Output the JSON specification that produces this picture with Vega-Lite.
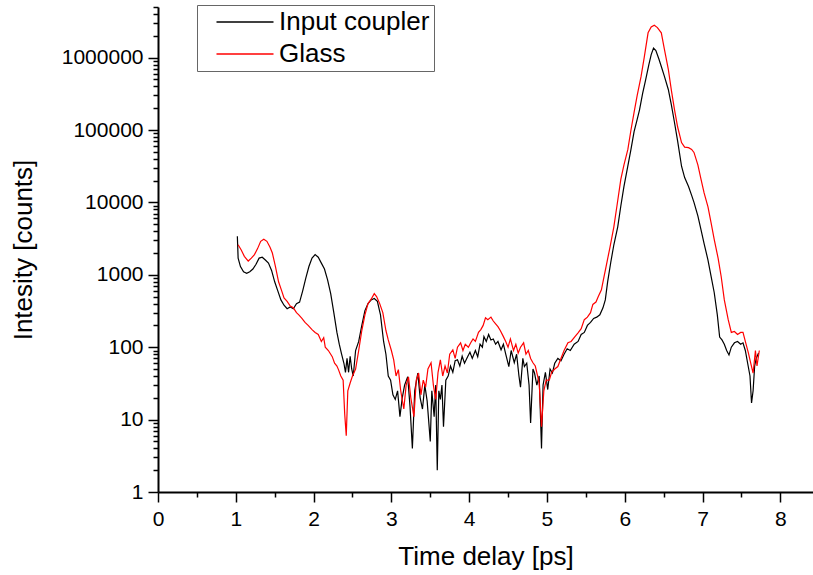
{
  "$schema": "https://vega.github.io/schema/vega-lite/v6.json",
  "autosize": "none",
  "padding": {"left": 158, "top": 7, "right": 0, "bottom": 83},
  "width": 655,
  "height": 485,
  "background": "white",
  "config": {
    "view": {"stroke": null},
    "font": "Liberation Sans",
    "axis": {"grid": false, "domainColor": "#000", "domainWidth": 2, "tickColor": "#000", "tickWidth": 1.5, "labelColor": "#000", "titleColor": "#000", "labelFont": "Liberation Sans", "titleFont": "Liberation Sans", "labelFontSize": 21, "titleFontSize": 26, "titleFontWeight": "normal", "labelFlush": false}
  },
  "datasets": {
    "ic": [
      [1.02,3400],[1.03,1700],[1.06,1300],[1.10,1100],[1.14,1050],[1.18,1100],[1.22,1200],[1.26,1400],[1.30,1700],[1.34,1750],[1.38,1600],[1.42,1450],[1.46,1150],[1.50,800],[1.54,600],[1.58,450],[1.62,380],[1.66,340],[1.70,360],[1.74,340],[1.78,400],[1.82,420],[1.86,600],[1.90,900],[1.94,1300],[1.98,1700],[2.02,1900],[2.06,1750],[2.10,1450],[2.14,1200],[2.18,850],[2.22,550],[2.26,300],[2.30,160],[2.33,110],[2.36,80],[2.39,60],[2.41,45],[2.43,70],[2.45,45],[2.47,75],[2.49,50],[2.51,40],[2.54,90],[2.58,120],[2.62,200],[2.66,320],[2.70,400],[2.74,450],[2.78,470],[2.82,430],[2.86,280],[2.90,120],[2.93,80],[2.96,40],[2.99,35],[3.02,22],[3.05,19],[3.08,25],[3.11,11],[3.14,20],[3.17,30],[3.21,39],[3.24,15],[3.27,4],[3.30,25],[3.34,44],[3.37,20],[3.40,14],[3.43,30],[3.46,18],[3.50,5],[3.52,25],[3.55,11],[3.57,30],[3.59,2],[3.61,25],[3.63,19],[3.65,30],[3.67,8],[3.70,35],[3.73,40],[3.76,55],[3.79,45],[3.82,65],[3.85,67],[3.88,55],[3.91,75],[3.94,60],[3.98,74],[4.01,85],[4.04,70],[4.08,90],[4.11,74],[4.14,110],[4.17,100],[4.19,140],[4.22,120],[4.25,150],[4.28,126],[4.31,130],[4.34,110],[4.37,120],[4.41,92],[4.44,110],[4.47,80],[4.51,54],[4.54,90],[4.58,61],[4.61,80],[4.64,40],[4.66,28],[4.69,70],[4.71,54],[4.74,60],[4.77,30],[4.79,9],[4.82,50],[4.84,44],[4.87,30],[4.90,40],[4.93,4],[4.95,30],[4.98,45],[5.01,26],[5.04,50],[5.07,44],[5.10,60],[5.14,70],[5.18,65],[5.22,80],[5.26,95],[5.30,90],[5.35,110],[5.40,120],[5.44,150],[5.48,160],[5.52,200],[5.56,220],[5.60,250],[5.64,260],[5.68,280],[5.72,350],[5.75,450],[5.78,800],[5.82,1480],[5.86,2600],[5.91,4600],[5.95,9000],[5.99,16600],[6.04,32000],[6.08,54000],[6.12,95000],[6.16,140000],[6.19,190000],[6.23,320000],[6.27,500000],[6.31,800000],[6.34,1100000],[6.37,1350000],[6.40,1250000],[6.44,950000],[6.47,755000],[6.51,550000],[6.56,363000],[6.60,220000],[6.64,126000],[6.68,70000],[6.73,31600],[6.77,22000],[6.82,16600],[6.86,12500],[6.89,10000],[6.94,6500],[6.98,4200],[7.02,2700],[7.07,1600],[7.11,950],[7.15,570],[7.19,280],[7.22,138],[7.25,126],[7.28,110],[7.31,90],[7.34,78],[7.37,100],[7.41,115],[7.45,120],[7.49,110],[7.52,115],[7.55,90],[7.58,60],[7.61,40],[7.63,17],[7.65,25],[7.67,55],[7.69,70],[7.72,83]
    ],
    "gl": [
      [1.03,2600],[1.07,2200],[1.11,1800],[1.16,1550],[1.20,1700],[1.24,1900],[1.28,2300],[1.32,2900],[1.36,3100],[1.40,2900],[1.44,2400],[1.47,2000],[1.51,1300],[1.55,800],[1.59,600],[1.62,480],[1.66,430],[1.70,370],[1.74,350],[1.78,300],[1.81,280],[1.85,250],[1.89,220],[1.93,200],[1.98,175],[2.02,160],[2.06,150],[2.10,120],[2.13,135],[2.15,100],[2.19,90],[2.22,80],[2.24,74],[2.27,60],[2.30,55],[2.32,49],[2.35,40],[2.38,35],[2.40,12],[2.42,6],[2.44,25],[2.47,32],[2.50,40],[2.54,50],[2.58,90],[2.62,170],[2.66,280],[2.70,400],[2.74,460],[2.78,550],[2.81,500],[2.85,400],[2.89,300],[2.93,170],[2.96,126],[3.00,90],[3.03,67],[3.06,40],[3.09,49],[3.12,25],[3.16,14],[3.19,30],[3.22,39],[3.25,20],[3.29,11],[3.32,35],[3.35,44],[3.38,22],[3.41,35],[3.44,28],[3.47,50],[3.51,61],[3.54,30],[3.57,19],[3.60,45],[3.63,67],[3.66,40],[3.69,55],[3.72,44],[3.75,80],[3.79,92],[3.82,70],[3.85,100],[3.89,115],[3.92,90],[3.95,110],[3.99,100],[4.02,115],[4.05,130],[4.08,120],[4.12,160],[4.15,175],[4.18,200],[4.21,255],[4.24,240],[4.28,260],[4.31,230],[4.34,210],[4.37,192],[4.40,170],[4.44,140],[4.47,120],[4.50,100],[4.53,130],[4.57,90],[4.60,110],[4.63,83],[4.66,100],[4.70,115],[4.73,80],[4.76,90],[4.79,70],[4.82,61],[4.85,55],[4.88,40],[4.90,32],[4.93,8],[4.96,25],[4.99,35],[5.03,35],[5.06,45],[5.10,50],[5.14,54],[5.18,70],[5.22,90],[5.27,115],[5.31,120],[5.36,140],[5.40,158],[5.44,180],[5.48,240],[5.52,260],[5.56,300],[5.59,390],[5.63,420],[5.66,500],[5.70,620],[5.73,900],[5.76,1300],[5.81,2400],[5.86,4600],[5.90,9000],[5.95,21000],[5.99,33000],[6.04,54000],[6.08,100000],[6.12,175000],[6.16,300000],[6.21,550000],[6.25,1000000],[6.30,2200000],[6.34,2650000],[6.38,2800000],[6.42,2600000],[6.47,2200000],[6.51,1300000],[6.56,690000],[6.60,350000],[6.64,190000],[6.68,110000],[6.73,67000],[6.77,58000],[6.82,57000],[6.86,54000],[6.89,49000],[6.94,33000],[6.98,21000],[7.02,13500],[7.07,8700],[7.11,5200],[7.15,3080],[7.20,1700],[7.24,940],[7.28,450],[7.33,240],[7.37,160],[7.41,165],[7.45,150],[7.49,160],[7.52,160],[7.55,120],[7.59,83],[7.62,60],[7.65,44],[7.68,90],[7.70,55],[7.73,90]
    ]
  },
  "encoding": {
    "color": {"field": "s", "type": "nominal", "scale": {"domain": ["Input coupler", "Glass"], "range": ["#000000", "#ff0000"]},
      "legend": {"title": null, "orient": "none", "legendX": 39, "legendY": -2, "strokeColor": "#666", "padding": 4, "symbolType": "M-1,0H5", "symbolSize": 361, "symbolStrokeWidth": 1.5, "symbolOffset": 12, "labelFontSize": 26, "labelFont": "Liberation Sans", "labelColor": "#000", "labelOffset": 40, "rowPadding": 6, "fillColor": "white"}}
  },
  "layer": [
    {
      "data": {"name": "ic"},
      "transform": [{"calculate": "datum[0]", "as": "t"}, {"calculate": "datum[1]", "as": "v"}, {"calculate": "'Input coupler'", "as": "s"}],
      "mark": {"type": "line", "strokeWidth": 1.2, "clip": true},
      "encoding": {
        "x": {"field": "t", "type": "quantitative", "scale": {"domain": [0, 8.42], "nice": false, "zero": false},
          "axis": {"orient": "bottom", "title": "Time delay [ps]", "values": [0,1,2,3,4,5,6,7,8], "format": "d", "tickSize": 10, "labelPadding": 6, "titlePadding": 14}},
        "y": {"field": "v", "type": "quantitative", "scale": {"type": "log", "domain": [1, 5000000], "nice": false},
          "axis": {"orient": "left", "title": "Intesity [counts]", "format": "d", "values": [1,10,100,1000,10000,100000,1000000], "tickSize": 10, "labelPadding": 5, "titlePadding": 25}}
      }
    },
    {
      "data": {"name": "gl"},
      "transform": [{"calculate": "datum[0]", "as": "t"}, {"calculate": "datum[1]", "as": "v"}, {"calculate": "'Glass'", "as": "s"}],
      "mark": {"type": "line", "strokeWidth": 1.2, "clip": true},
      "encoding": {
        "x": {"field": "t", "type": "quantitative",
          "axis": {"orient": "bottom", "title": null, "values": [0.5,1.5,2.5,3.5,4.5,5.5,6.5,7.5], "labels": false, "domain": false, "tickSize": 5}},
        "y": {"field": "v", "type": "quantitative",
          "axis": {"orient": "left", "title": null, "labels": false, "domain": false, "tickSize": 5, "values": [2,3,4,5,6,7,8,9,20,30,40,50,60,70,80,90,200,300,400,500,600,700,800,900,2000,3000,4000,5000,6000,7000,8000,9000,20000,30000,40000,50000,60000,70000,80000,90000,200000,300000,400000,500000,600000,700000,800000,900000,2000000,3000000,4000000,5000000]}}
      }
    }
  ],
  "resolve": {"axis": {"x": "independent", "y": "independent"}}
}
